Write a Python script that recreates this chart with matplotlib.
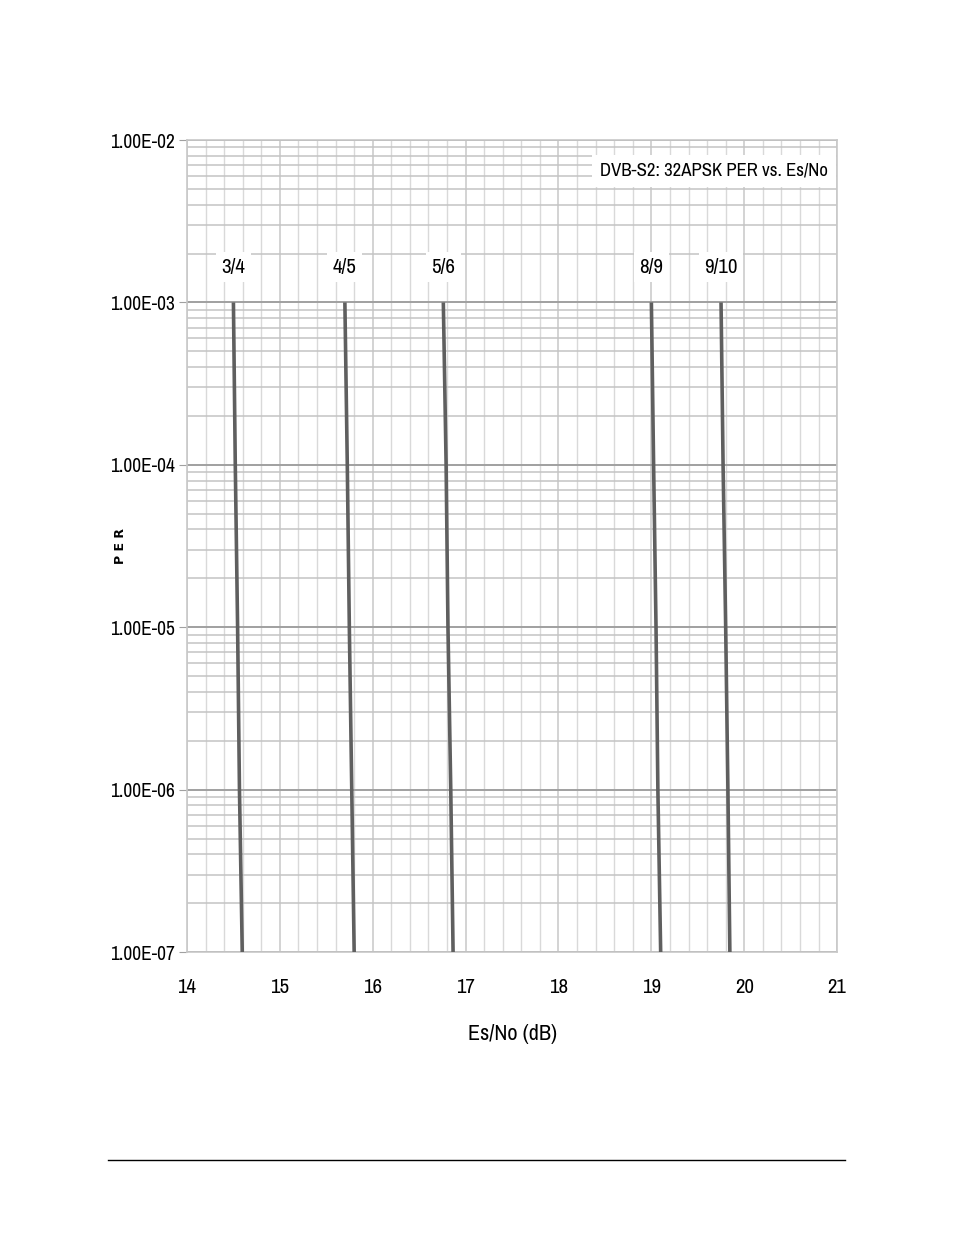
import matplotlib
matplotlib.use("Agg")
import matplotlib.pyplot as plt
from matplotlib import font_manager
from matplotlib.ticker import FixedLocator, FuncFormatter, LogLocator, MultipleLocator, NullFormatter

# the original uses a very narrow face; take a condensed one if it is there
narrow = sorted({f.name for f in font_manager.fontManager.ttflist
                 if "Narrow" in f.name or "Condensed" in f.name or f.stretch in ("condensed", "semi-condensed")})
FONT = [narrow[0], "DejaVu Sans"] if narrow else ["DejaVu Sans"]
SCALE = 1.0 if narrow else 0.8
plt.rcParams["font.family"] = FONT

# PER points read at each decade
per = [1e-3, 1e-4, 1e-5, 1e-6, 1e-7]
rates = ["3/4", "4/5", "5/6", "8/9", "9/10"]
esno_34 = [14.50, 14.52, 14.545, 14.565, 14.595]
esno_45 = [15.70, 15.726, 15.748, 15.774, 15.80]
esno_56 = [16.76, 16.79, 16.81, 16.84, 16.865]
esno_89 = [19.00, 19.024, 19.05, 19.07, 19.10]
esno_910 = [19.75, 19.772, 19.80, 19.824, 19.845]
curves = [esno_34, esno_45, esno_56, esno_89, esno_910]

x_ticks = [14, 15, 16, 17, 18, 19, 20, 21]
y_ticks = [1e-2, 1e-3, 1e-4, 1e-5, 1e-6, 1e-7]

LINE = "#5f5f5f"

fig = plt.figure(figsize=(9.54, 12.35), dpi=100)
ax = fig.add_axes([0.196, 0.2291, 0.6815, 0.6575])

for esno in curves:
    ax.plot(esno, per, color=LINE, lw=2.6, solid_capstyle="butt", zorder=3)

ax.set_yscale("log")
ax.set_xlim(14, 21)
ax.set_ylim(1e-7, 1e-2)

ax.xaxis.set_major_locator(FixedLocator(x_ticks))
ax.xaxis.set_minor_locator(MultipleLocator(0.2))
ax.yaxis.set_major_locator(FixedLocator(y_ticks))
ax.yaxis.set_minor_locator(LogLocator(base=10, subs=range(2, 10)))
ax.yaxis.set_minor_formatter(NullFormatter())
ax.yaxis.set_major_formatter(FuncFormatter(lambda v, _: f"{v:.2E}"))

ax.grid(which="major", axis="y", color="#a0a0a0", lw=1.4)
ax.grid(which="minor", axis="y", color="#c4c4c4", lw=1.1)
ax.grid(which="major", axis="x", color="#c8c8c8", lw=1.1)
ax.grid(which="minor", axis="x", color="#d9d9d9", lw=1.0)
ax.set_axisbelow(True)

for side in ["left", "right", "top", "bottom"]:
    ax.spines[side].set_color("#c8c8c8")
    ax.spines[side].set_linewidth(1.2)

fs = 14 * SCALE
ax.tick_params(axis="y", which="major", length=6, color="#a0a0a0", labelsize=fs, pad=3)
ax.tick_params(axis="y", which="minor", length=0)
ax.tick_params(axis="x", which="both", length=0, labelsize=fs + 1, pad=19)

ax.set_xlabel("Es/No (dB)", fontsize=16 * SCALE, labelpad=19)
ax.set_ylabel("P E R", fontsize=9, fontweight="bold", family="DejaVu Sans")
ax.yaxis.set_label_coords(-0.092, 0.5)

for label, esno in zip(rates, curves):
    ax.text(esno[0], 1.65e-3, label, ha="center", va="center", fontsize=fs + 1, zorder=4,
            bbox=dict(facecolor="white", edgecolor="none", pad=4))

ax.text(0.986, 0.962, "DVB-S2: 32APSK PER vs. Es/No", transform=ax.transAxes, ha="right", va="center",
        fontsize=13.5 * SCALE, zorder=4, bbox=dict(facecolor="white", edgecolor="none", pad=6))

fig.add_artist(plt.Line2D([108 / 954, 845 / 954], [1 - 1160 / 1235] * 2, color="black", lw=1.0))

fig.savefig("out.png", dpi=100, facecolor="white")
